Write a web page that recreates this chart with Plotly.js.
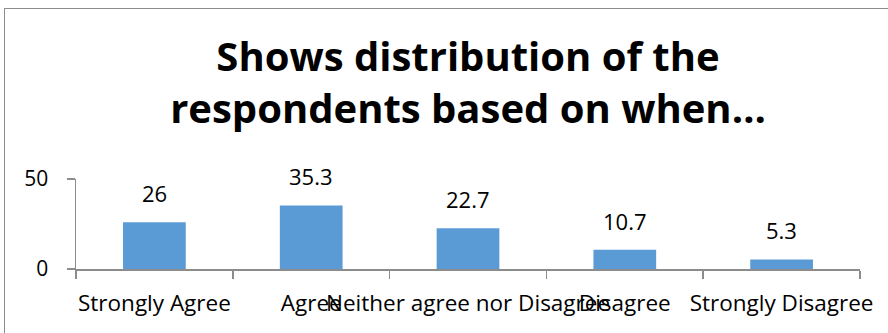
<!DOCTYPE html>
<html>
<head>
<meta charset="utf-8">
<script src="https://cdn.plot.ly/plotly-3.0.1.min.js"></script>
<style>
  html, body { margin: 0; padding: 0; background: #fff; }
  #wrap { position: relative; width: 888px; height: 333px; overflow: hidden; }
  #chart { position: absolute; left: 0; top: 0; width: 888px; height: 333px; }
  #frame { position: absolute; left: 4px; top: 8px; width: 900px; height: 400px;
           border-left: 1.5px solid #8c8c8c; border-top: 1.5px solid #8c8c8c; pointer-events: none; }
</style>
</head>
<body>
<div id="wrap">
  <div id="chart"></div>
  <div id="frame"></div>
</div>
<script>
const categories = ["Strongly Agree", "Agree", "Neither agree nor Disagree", "Disagree", "Strongly Disagree"];
const values = [26, 35.3, 22.7, 10.7, 5.3];
const valueLabels = ["26", "35.3", "22.7", "10.7", "5.3"];
const yTicks = [0, 50];
const titleText = "Shows distribution of the<br>respondents based on when…";

const FONT = "Open Sans, Lato, sans-serif";
const AXIS = "#8c8c8c";

const trace = {
  type: "bar",
  x: categories,
  y: values,
  marker: { color: "#5B9BD5" },
  hoverinfo: "skip"
};

const annotations = categories.map((c, i) => ({
  x: c, y: values[i], xref: "x", yref: "y",
  text: valueLabels[i], showarrow: false,
  yanchor: "bottom", yshift: 12,
  font: { family: FONT, size: 22, color: "#000" }
}));

const layout = {
  width: 888, height: 333,
  margin: { l: 76, r: 28, t: 179, b: 64 },
  paper_bgcolor: "#fff", plot_bgcolor: "#fff",
  showlegend: false,
  bargap: 0.6,
  title: {
    text: titleText,
    font: { family: FONT, size: 40, color: "#000", weight: "bold" },
    xref: "paper", x: 0.5, xanchor: "center",
    yref: "container", y: 1 - 71 / 333, yanchor: "top"
  },
  xaxis: {
    showline: true, linecolor: AXIS, linewidth: 1.5,
    ticks: "outside", tickson: "boundaries", ticklen: 8, tickcolor: AXIS, tickwidth: 1.5,
    showgrid: false, zeroline: false,
    tickangle: 0, automargin: false,
    tickfont: { family: FONT, size: 22.5, color: "#000" },
    ticklabelstandoff: 13
  },
  yaxis: {
    range: [0, 50], tickvals: yTicks, ticktext: yTicks.map(String),
    showline: true, linecolor: AXIS, linewidth: 1.5,
    ticks: "outside", ticklen: 8, tickcolor: AXIS, tickwidth: 1.5,
    showgrid: true, gridcolor: AXIS, gridwidth: 1.5,
    zeroline: false,
    tickfont: { family: FONT, size: 21, color: "#000" },
    ticklabelstandoff: 14
  },
  annotations: annotations
};

Plotly.newPlot("chart", [trace], layout, { staticPlot: true, displayModeBar: false });
</script>
</body>
</html>
